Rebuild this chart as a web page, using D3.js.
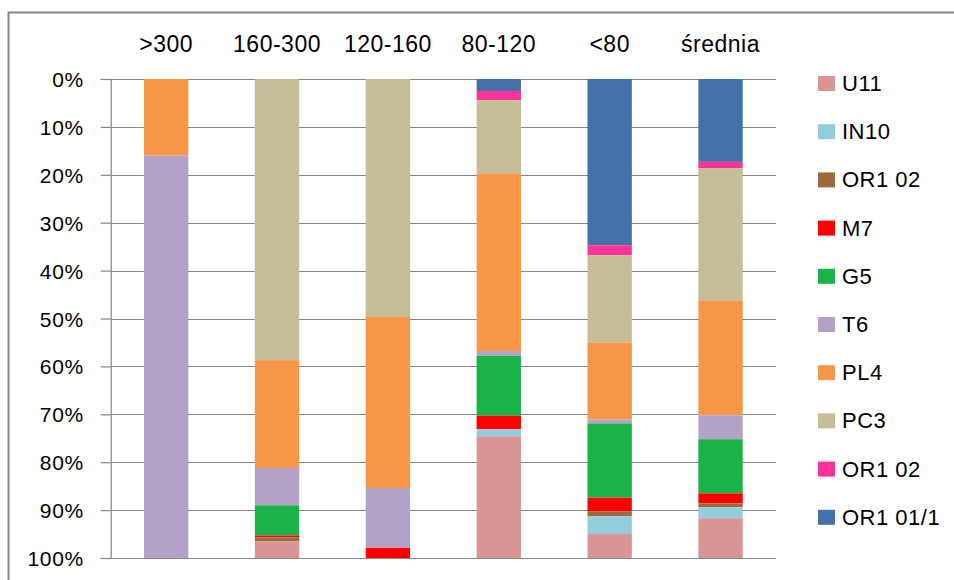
<!DOCTYPE html>
<html>
<head>
<meta charset="utf-8">
<script src="https://cdn.jsdelivr.net/npm/d3@7"></script>
<style>
  html, body { margin: 0; padding: 0; background: #fff; }
  svg { display: block; font-family: "Liberation Sans", Arial, sans-serif; }
</style>
</head>
<body>
<svg id="chart" width="954" height="580"></svg>
<script>
// ---- data ----
const categories = [">300", "160-300", "120-160", "80-120", "<80", "średnia"];
// series listed bottom (100%) to top (0%), same order as legend
const seriesKeys   = ["U11", "IN10", "OR1_02b", "M7", "G5", "T6", "PL4", "PC3", "OR1_02p", "OR1_01_1"];
const seriesLabels = ["U11", "IN10", "OR1 02", "M7", "G5", "T6", "PL4", "PC3", "OR1 02", "OR1 01/1"];
const seriesColors = ["#d99594", "#93cddd", "#9c6a3c", "#ff0000", "#1ab34a", "#b2a2c7", "#f79646", "#c4bd97", "#ff3399", "#4472a8"];
const U11      = [0, 3.5, 0, 25.4, 5.0, 8.3];
const IN10     = [0, 0, 0, 1.5, 3.7, 2.3];
const OR1_02b  = [0, 0.8, 0, 0, 1.0, 0.8];
const M7       = [0, 0.4, 2.1, 2.8, 2.9, 2.1];
const G5       = [0, 6.3, 0, 12.5, 15.5, 11.3];
const T6       = [84, 7.8, 12.5, 1.0, 0.8, 5.0];
const PL4      = [16, 22.5, 35.7, 37.1, 16.1, 23.9];
const PC3      = [0, 58.7, 49.7, 15.3, 18.2, 27.7];
const OR1_02p  = [0, 0, 0, 1.9, 2.1, 1.3];
const OR1_01_1 = [0, 0, 0, 2.5, 34.7, 17.3];
const tickValues = [0, 10, 20, 30, 40, 50, 60, 70, 80, 90, 100];

const seriesValues = { U11, IN10, OR1_02b, M7, G5, T6, PL4, PC3, OR1_02p, OR1_01_1 };
const table = categories.map((c, i) => {
  const row = { cat: c };
  seriesKeys.forEach(k => row[k] = seriesValues[k][i]);
  return row;
});

// ---- layout ----
const svg = d3.select("#chart");
const plotLeft = 110.7, plotRight = 776, plotTop = 79, plotBottom = 558;
const grid = "#868686";

// outer frame (right/bottom edges fall outside the picture)
svg.append("rect")
  .attr("x", 8.5).attr("y", 12.5).attr("width", 1000).attr("height", 1000)
  .attr("fill", "none").attr("stroke", grid).attr("stroke-width", 2);

const x = d3.scaleBand().domain(categories).range([plotLeft, plotRight])
  .paddingInner(0.6).paddingOuter(0.3);
// reversed axis: 0% at top
const y = d3.scaleLinear().domain([0, 100]).range([plotTop, plotBottom]);

// gridlines
svg.append("g").selectAll("line").data(tickValues).join("line")
  .attr("x1", plotLeft).attr("x2", plotRight)
  .attr("y1", d => Math.round(y(d)) + 0.5).attr("y2", d => Math.round(y(d)) + 0.5)
  .attr("stroke", grid).attr("stroke-width", 1.2);

// stacked bars: stack from top series (OR1 01/1) downward
const stackOrder = seriesKeys.slice().reverse();
const stacked = d3.stack().keys(stackOrder)(table);
const colorOf = d3.scaleOrdinal().domain(seriesKeys).range(seriesColors);

svg.append("g").selectAll("g").data(stacked).join("g")
  .attr("fill", d => colorOf(d.key))
  .selectAll("rect").data(d => d).join("rect")
  .attr("x", d => x(d.data.cat))
  .attr("width", x.bandwidth())
  .attr("y", d => y(d[0]))
  .attr("height", d => Math.max(0, y(d[1]) - y(d[0])));

// y axis
const yAxis = d3.axisLeft(y).tickValues(tickValues)
  .tickFormat(d => d + "%").tickSize(10).tickPadding(17);
const ya = svg.append("g").attr("transform", `translate(${plotLeft},0)`).call(yAxis);
ya.select(".domain").attr("stroke", grid).attr("stroke-width", 1.2);
ya.selectAll(".tick line").attr("stroke", grid).attr("stroke-width", 1.2);
ya.selectAll(".tick text")
  .attr("fill", "#000").attr("font-size", 21)
  .attr("font-family", "'Liberation Sans', Arial, sans-serif")
  .attr("dy", "0.36em").style("letter-spacing", "0.6px");

// category labels at top
svg.append("g").selectAll("text").data(categories).join("text")
  .attr("x", d => x(d) + x.bandwidth() / 2)
  .attr("y", 52)
  .attr("text-anchor", "middle")
  .attr("font-size", 23)
  .style("letter-spacing", "0.5px")
  .attr("fill", "#000")
  .text(d => d);

// legend
const legend = svg.append("g").selectAll("g").data(seriesKeys).join("g")
  .attr("transform", (d, i) => `translate(818, ${76 + i * 48.2})`);
legend.append("rect").attr("width", 17).attr("height", 15)
  .attr("fill", d => colorOf(d));
legend.append("text").attr("x", 24).attr("y", 15)
  .attr("font-size", 22).attr("fill", "#000")
  .style("letter-spacing", "0.5px")
  .text((d, i) => seriesLabels[i]);
</script>
</body>
</html>
